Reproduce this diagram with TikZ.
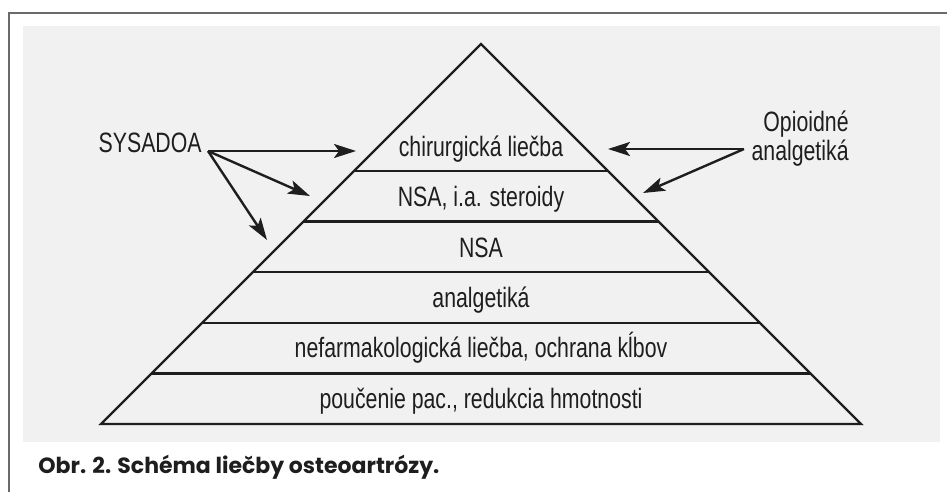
\documentclass[tikz,border=0pt]{standalone}
\usepackage{fontspec}
\setmainfont{Liberation Sans}[FakeStretch=0.76]
\newfontfamily\capfont{Poppins}
\usetikzlibrary{calc,arrows.meta}
\definecolor{panel}{HTML}{F1F1F1}
\definecolor{framegray}{HTML}{6A6A6A}
\definecolor{ink}{HTML}{1E1E1E}
\tikzset{
  lbl/.style={font=\fontsize{14}{13}\selectfont, text=ink, inner sep=0pt},
  ptr/.style={-{Stealth[length=11pt,width=7pt,inset=2.5pt]}, line width=1.2pt, draw=ink},
}
\begin{document}
\begin{tikzpicture}[x=0.5pt,y=-0.5pt]
  \useasboundingbox (0,0) rectangle (947,492);
  \fill[panel] (23,26) rectangle (940,442);
  \draw[framegray, line width=1.3pt] (9,492) -- (9,13) -- (947,13);
  % pyramid
  \coordinate (apex) at (481,44);
  \coordinate (bl) at (101,424);
  \coordinate (br) at (861,424);
  \draw[ink, line width=1.2pt] (bl) -- (apex) -- (br) -- cycle;
  \foreach \t in {0.3342,0.4674,0.6005,0.7337,0.8668}
    \draw[ink, line width=1.2pt] ($(apex)!\t!(bl)$) -- ($(apex)!\t!(br)$);
  % layers
  \node[lbl, anchor=base] (l1) at (481,156) {chirurgická liečba};
  \node[lbl, anchor=base] (l2) at (481,206.5) {NSA, i.a. steroidy};
  \node[lbl, anchor=base] (l3) at (481,257) {NSA};
  \node[lbl, anchor=base] (l4) at (481,307) {analgetiká};
  \node[lbl, anchor=base] (l5) at (481,357.5) {nefarmakologická liečba, ochrana kĺbov};
  \node[lbl, anchor=base] (l6) at (481,408) {poučenie pac., redukcia hmotnosti};
  % side labels
  \node[lbl, anchor=base east] (sys) at (202,153) {SYSADOA};
  \node[lbl, align=right, anchor=base east] (opi) at (849,160) {Opioidné\\analgetiká};
  \coordinate (sysO) at (208,151);
  \coordinate (opiO) at (744,149);
  \coordinate (t1) at (356,151);
  \coordinate (t2) at (310,196);
  \coordinate (t3) at (267,240);
  \coordinate (t4) at (608,149);
  \coordinate (t5) at (643,193);
  \draw[ptr] (sysO) -- (t1);
  \draw[ptr] (sysO) -- (t2);
  \draw[ptr] (sysO) -- (t3);
  \draw[ptr] (opiO) -- (t4);
  \draw[ptr] (opiO) -- (t5);
  % caption
  \node[font=\capfont\bfseries\fontsize{11}{12}\selectfont, text=ink, inner sep=0pt, anchor=base west] (cap) at (38,473) {Obr. 2. Schéma liečby osteoartrózy.};
\end{tikzpicture}
\end{document}
